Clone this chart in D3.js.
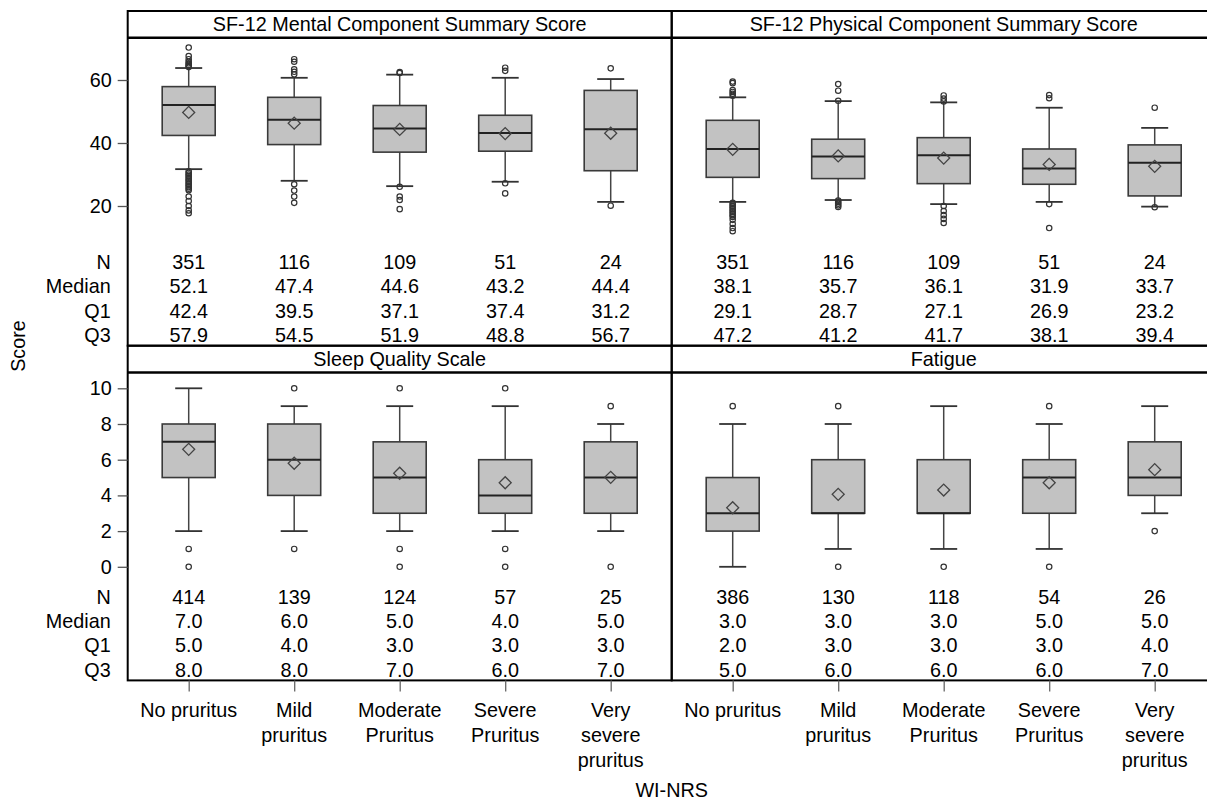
<!DOCTYPE html>
<html>
<head>
<meta charset="utf-8">
<script src="https://cdn.jsdelivr.net/npm/d3@7/dist/d3.min.js"></script>
<style>
  body { margin: 0; background: #fff; }
  svg text { font-family: "Liberation Sans", Arial, sans-serif; fill: #000; }
</style>
</head>
<body>
<div id="box"></div>
<script>
// Categories on the x axis (WI-NRS groups)
var categories = ["No pruritus", "Mild pruritus", "Moderate Pruritus", "Severe Pruritus", "Very severe pruritus"];
var categoryLines = [["No pruritus"], ["Mild", "pruritus"], ["Moderate", "Pruritus"], ["Severe", "Pruritus"], ["Very", "severe", "pruritus"]];
var statLabels = ["N", "Median", "Q1", "Q3"];
var panelTitles = ["SF-12 Mental Component Summary Score", "SF-12 Physical Component Summary Score", "Sleep Quality Scale", "Fatigue"];
var topTicks = [20, 40, 60];
var bottomTicks = [0, 2, 4, 6, 8, 10];

// SF-12 MCS
var mcsN = [351, 116, 109, 51, 24];
var mcsMedian = [52.1, 47.4, 44.6, 43.2, 44.4];
var mcsQ1 = [42.4, 39.5, 37.1, 37.4, 31.2];
var mcsQ3 = [57.9, 54.5, 51.9, 48.8, 56.7];
var mcsLow = [31.7, 28.0, 26.3, 27.7, 21.3];
var mcsHigh = [63.8, 60.7, 61.7, 60.7, 60.3];
var mcsMean = [49.7, 46.3, 44.3, 43.0, 43.1];
var mcsOutliers = [
  [70.3, 67.6, 66.6, 65.8, 65.3, 64.8, 64.4, 64.1, 31.0, 30.5, 30.0, 29.5, 29.0, 28.5, 28.0, 27.5, 27.0, 26.5, 26.0, 25.5, 25.0, 23.0, 21.6, 20.0, 18.6, 17.7],
  [66.6, 65.8, 63.4, 62.6, 61.8, 26.9, 24.9, 23.0, 21.0],
  [62.5, 62.2, 26.1, 23.0, 21.9, 19.0],
  [63.9, 62.9, 27.2, 24.0],
  [63.7, 20.1]
];

// SF-12 PCS
var pcsN = [351, 116, 109, 51, 24];
var pcsMedian = [38.1, 35.7, 36.1, 31.9, 33.7];
var pcsQ1 = [29.1, 28.7, 27.1, 26.9, 23.2];
var pcsQ3 = [47.2, 41.2, 41.7, 38.1, 39.4];
var pcsLow = [21.3, 21.9, 20.6, 21.3, 19.8];
var pcsHigh = [54.5, 53.3, 52.9, 51.2, 44.8];
var pcsMean = [38.0, 35.9, 35.2, 33.2, 32.6];
var pcsOutliers = [
  [59.5, 59.0, 56.8, 56.2, 55.6, 55.0, 21.0, 20.5, 20.0, 19.5, 19.0, 18.5, 18.0, 17.5, 17.0, 16.5, 15.6, 14.3, 13.0, 12.0],
  [58.7, 56.6, 53.4, 21.7, 21.2, 20.7, 20.2, 19.7],
  [55.1, 54.1, 53.2, 20.0, 18.4, 17.1, 15.9, 14.6],
  [55.2, 54.2, 20.6, 13.0],
  [51.2, 19.6]
];

// Sleep Quality Scale
var sleepN = [414, 139, 124, 57, 25];
var sleepMedian = [7, 6, 5, 4, 5];
var sleepQ1 = [5, 4, 3, 3, 3];
var sleepQ3 = [8, 8, 7, 6, 7];
var sleepLow = [2, 2, 2, 2, 2];
var sleepHigh = [10, 9, 9, 9, 8];
var sleepMean = [6.58, 5.80, 5.24, 4.71, 5.01];
var sleepOutliers = [[1, 0], [10, 1], [10, 1, 0], [10, 1, 0], [9, 0]];

// Fatigue
var fatN = [386, 130, 118, 54, 26];
var fatMedian = [3, 3, 3, 5, 5];
var fatQ1 = [2, 3, 3, 3, 4];
var fatQ3 = [5, 6, 6, 6, 7];
var fatLow = [0, 1, 1, 1, 3];
var fatHigh = [8, 8, 9, 8, 9];
var fatMean = [3.31, 4.06, 4.30, 4.71, 5.44];
var fatOutliers = [[9], [9, 0], [0], [9, 0], [2]];

var panels = [
  {title: panelTitles[0], row: 0, col: 0, n: mcsN, median: mcsMedian, q1: mcsQ1, q3: mcsQ3, low: mcsLow, high: mcsHigh, mean: mcsMean, outliers: mcsOutliers},
  {title: panelTitles[1], row: 0, col: 1, n: pcsN, median: pcsMedian, q1: pcsQ1, q3: pcsQ3, low: pcsLow, high: pcsHigh, mean: pcsMean, outliers: pcsOutliers},
  {title: panelTitles[2], row: 1, col: 0, n: sleepN, median: sleepMedian, q1: sleepQ1, q3: sleepQ3, low: sleepLow, high: sleepHigh, mean: sleepMean, outliers: sleepOutliers},
  {title: panelTitles[3], row: 1, col: 1, n: fatN, median: fatMedian, q1: fatQ1, q3: fatQ3, low: fatLow, high: fatHigh, mean: fatMean, outliers: fatOutliers}
];

var svgW = 1207, svgH = 803;
var plotLeft = 127.7, colW = 544, plotTop = 11, headerH = 26.7, contentH = 308;
var fontSize = 19.8;
var boxW = 53, capW = 27;

var svg = d3.select("#box").append("svg")
    .attr("width", svgW)
    .attr("height", svgH);

//Category position inside one panel
var x = d3.scalePoint().domain(categories).range([61, colW - 61]);

//One y scale per row (absolute page coordinates)
var yScales = [
  d3.scaleLinear().domain([20, 60]).range([206, 80]),
  d3.scaleLinear().domain([0, 10]).range([566.8, 388.3])
];
var rowTicks = [topTicks, bottomTicks];

function rowTop(r) { return plotTop + r * (headerH + contentH); }

panels.forEach(drawPanel);
drawYAxes();
drawXAxes();

//Axis titles
svg.append("text")
   .attr("x", plotLeft + colW)
   .attr("y", 797)
   .attr("text-anchor", "middle")
   .style("font-size", fontSize + "px")
   .text("WI-NRS");
svg.append("text")
   .attr("transform", "translate(25,346) rotate(-90)")
   .attr("text-anchor", "middle")
   .style("font-size", fontSize + "px")
   .text("Score");

//Draws one panel: header strip, frame, boxes and the stats table
function drawPanel(p) {
    var y = yScales[p.row];
    var g = svg.append("g")
               .attr("transform", "translate(" + (plotLeft + p.col * colW) + "," + rowTop(p.row) + ")");

    g.append("rect")
     .attr("width", colW).attr("height", headerH + contentH)
     .style("fill", "none").style("stroke", "#000").style("stroke-width", 2);
    g.append("line")
     .attr("x1", 0).attr("x2", colW).attr("y1", headerH).attr("y2", headerH)
     .style("stroke", "#000").style("stroke-width", 2.5);
    g.append("text")
     .attr("x", colW / 2).attr("y", headerH / 2)
     .attr("dy", "0.36em")
     .attr("text-anchor", "middle")
     .style("font-size", fontSize + "px")
     .text(p.title);

    // boxes use absolute y, so undo the row offset
    var b = g.append("g").attr("transform", "translate(0," + (-rowTop(p.row)) + ")");
    categories.forEach(function(c, i) {
        var cx = x(c);
        var gb = b.append("g");
        // whiskers
        gb.append("line")
          .attr("x1", cx).attr("x2", cx).attr("y1", y(p.high[i])).attr("y2", y(p.q3[i]))
          .style("stroke", "#444").style("stroke-width", 1.5);
        gb.append("line")
          .attr("x1", cx).attr("x2", cx).attr("y1", y(p.q1[i])).attr("y2", y(p.low[i]))
          .style("stroke", "#444").style("stroke-width", 1.5);
        [p.high[i], p.low[i]].forEach(function(v) {
            gb.append("line")
              .attr("x1", cx - capW / 2).attr("x2", cx + capW / 2).attr("y1", y(v)).attr("y2", y(v))
              .style("stroke", "#333").style("stroke-width", 1.8);
        });
        // box
        gb.append("rect")
          .attr("x", cx - boxW / 2).attr("y", y(p.q3[i]))
          .attr("width", boxW).attr("height", y(p.q1[i]) - y(p.q3[i]))
          .style("fill", "#c2c2c2").style("stroke", "#3a3a3a").style("stroke-width", 1.6);
        gb.append("line")
          .attr("x1", cx - boxW / 2).attr("x2", cx + boxW / 2)
          .attr("y1", y(p.median[i])).attr("y2", y(p.median[i]))
          .style("stroke", "#222").style("stroke-width", 2);
        // mean diamond
        gb.append("path")
          .attr("d", d3.symbol(d3.symbolSquare, 72)())
          .attr("transform", "translate(" + cx + "," + y(p.mean[i]) + ") rotate(45)")
          .style("fill", "none").style("stroke", "#444").style("stroke-width", 1.3);
        // outliers
        gb.selectAll("circle.out").data(p.outliers[i]).enter().append("circle")
          .attr("class", "out")
          .attr("cx", cx).attr("cy", function(d) { return y(d); })
          .attr("r", 2.7)
          .style("fill", "none").style("stroke", "#333").style("stroke-width", 1.2);
    });

    // stats table
    var fmt = d3.format(".1f");
    var rows = [p.n.map(String), p.median.map(fmt), p.q1.map(fmt), p.q3.map(fmt)];
    rows.forEach(function(vals, r) {
        var ty = headerH + 224.3 + r * 24.3;
        g.selectAll(null).data(vals).enter().append("text")
         .attr("x", function(d, i) { return x(categories[i]); })
         .attr("y", ty)
         .attr("dy", "0.36em")
         .attr("text-anchor", "middle")
         .style("font-size", fontSize + "px")
         .text(function(d) { return d; });
        if (p.col == 0) {
            g.append("text")
             .attr("x", -17).attr("y", ty).attr("dy", "0.36em")
             .attr("text-anchor", "end")
             .style("font-size", fontSize + "px")
             .text(statLabels[r]);
        }
    });
}

//Left axis for each row
function drawYAxes() {
    [0, 1].forEach(function(r) {
        var ax = svg.append("g")
                    .attr("transform", "translate(" + plotLeft + ",0)")
                    .call(d3.axisLeft(yScales[r]).tickValues(rowTicks[r]).tickSize(10).tickPadding(6));
        ax.select(".domain").remove();
        ax.selectAll("line").style("stroke", "#555").style("stroke-width", 1.3);
        ax.selectAll("text")
          .style("font-size", fontSize + "px")
          .style("font-family", "'Liberation Sans', Arial, sans-serif")
          .style("fill", "#000");
    });
}

//Bottom ticks and multi line category labels under both columns
function drawXAxes() {
    var base = rowTop(1) + headerH + contentH;
    [0, 1].forEach(function(c) {
        var ax = svg.append("g")
                    .attr("transform", "translate(" + (plotLeft + c * colW) + "," + base + ")")
                    .call(d3.axisBottom(x).tickSize(11).tickFormat(""));
        ax.select(".domain").remove();
        ax.selectAll("line").style("stroke", "#666").style("stroke-width", 1.3);
        categories.forEach(function(cat, i) {
            var t = ax.append("text")
                      .attr("text-anchor", "middle")
                      .style("font-size", fontSize + "px")
                      .style("font-family", "'Liberation Sans', Arial, sans-serif")
                      .style("fill", "#000");
            categoryLines[i].forEach(function(line, k) {
                t.append("tspan")
                 .attr("x", x(cat))
                 .attr("y", 36.3 + k * 25)
                 .text(line);
            });
        });
    });
}
</script>
</body>
</html>
